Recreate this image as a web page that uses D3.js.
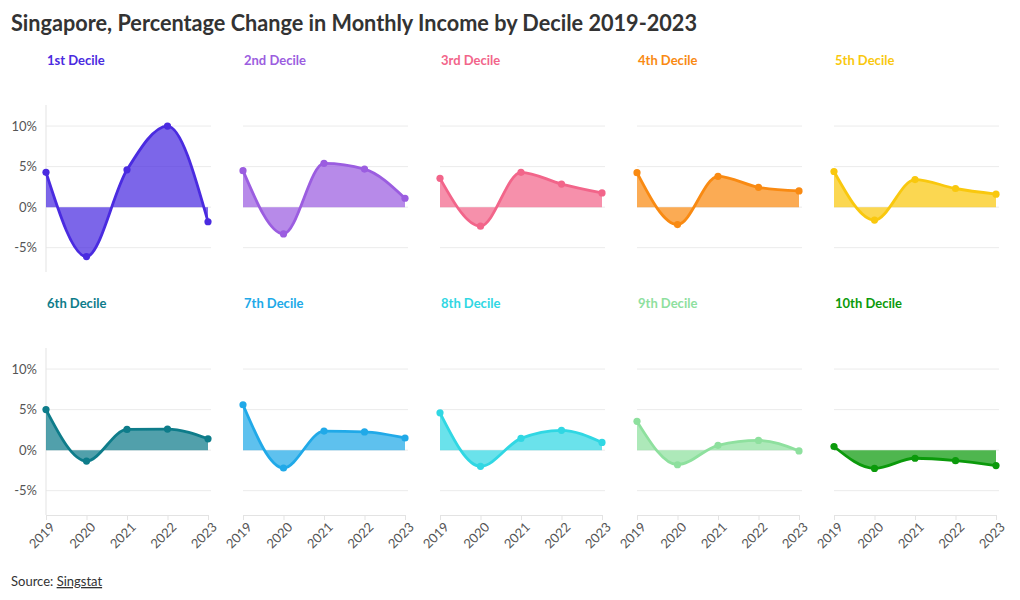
<!DOCTYPE html>
<html>
<head>
<meta charset="utf-8">
<script src="https://cdn.jsdelivr.net/npm/d3@7"></script>
<style>
  html, body { margin: 0; padding: 0; background: #fff; }
  svg { display: block; font-family: "Source Sans Pro", Lato, "Noto Sans", sans-serif; }
</style>
</head>
<body>
<svg id="chart" width="1020" height="600"></svg>
<script>
const years = [2019, 2020, 2021, 2022, 2023];
const deciles = ["1st Decile", "2nd Decile", "3rd Decile", "4th Decile", "5th Decile",
                 "6th Decile", "7th Decile", "8th Decile", "9th Decile", "10th Decile"];
const colors = ["#4a2be0", "#9b5de0", "#f2658a", "#f98a12", "#f9c80e",
                "#0e7c8a", "#20a9e8", "#30d7e3", "#8ee09e", "#0b9a0b"];
const d1 = [4.3, -6.1, 4.6, 10.0, -1.8];
const d2 = [4.5, -3.3, 5.4, 4.7, 1.1];
const d3v = [3.55, -2.35, 4.3, 2.85, 1.75];
const d4 = [4.25, -2.15, 3.8, 2.45, 2.0];
const d5 = [4.4, -1.6, 3.4, 2.3, 1.6];
const d6 = [5.0, -1.35, 2.55, 2.6, 1.4];
const d7 = [5.6, -2.2, 2.35, 2.25, 1.5];
const d8 = [4.6, -2.0, 1.45, 2.45, 0.95];
const d9 = [3.55, -1.8, 0.6, 1.2, -0.1];
const d10 = [0.45, -2.25, -1.0, -1.3, -1.9];
const series = [d1, d2, d3v, d4, d5, d6, d7, d8, d9, d10];
const yTicks = [-5, 0, 5, 10];
const yDomain = [-8, 12.6];

const svg = d3.select("#chart");

svg.append("text")
  .attr("x", 11).attr("y", 31)
  .attr("font-size", 22).attr("font-weight", 700)
  .attr("fill", "#333")
  .attr("textLength", 686).attr("lengthAdjust", "spacingAndGlyphs")
  .text("Singapore, Percentage Change in Monthly Income by Decile 2019-2023");

const pw = 162, ph = 167;
const x = d3.scalePoint().domain(years).range([0, pw]);
const y = d3.scaleLinear().domain(yDomain).range([ph, 0]);

const area = d3.area().curve(d3.curveMonotoneX)
  .x((d, i) => x(years[i])).y0(y(0)).y1(d => y(d));
const line = d3.line().curve(d3.curveMonotoneX)
  .x((d, i) => x(years[i])).y(d => y(d));

series.forEach((vals, k) => {
  const col = k % 5, row = Math.floor(k / 5);
  const left = 46 + col * 197;
  const top = 105 + row * 243;
  const g = svg.append("g").attr("transform", `translate(${left},${top})`);

  g.append("text")
    .attr("x", 1).attr("y", -40)
    .attr("font-size", 13).attr("font-weight", 700)
    .attr("fill", colors[k])
    .text(deciles[k]);

  g.selectAll(".grid").data(yTicks).join("line")
    .attr("x1", 0).attr("x2", pw + 3)
    .attr("y1", d => y(d)).attr("y2", d => y(d))
    .attr("stroke", "#ebebeb").attr("stroke-width", 1);

  if (col === 0) {
    g.append("line").attr("x1", 0).attr("x2", 0).attr("y1", 0).attr("y2", ph)
      .attr("stroke", "#e3e3e3");
    g.selectAll(".yl").data(yTicks).join("text")
      .attr("x", -9).attr("y", d => y(d)).attr("dy", "0.35em")
      .attr("text-anchor", "end").attr("font-size", 13).attr("fill", "#555")
      .text(d => d + "%");
  }

  if (row === 1) {
    const ax = g.append("g").attr("transform", `translate(0,${ph})`)
      .call(d3.axisBottom(x).tickSize(5).tickSizeOuter(0));
    ax.select(".domain").attr("stroke", "#e3e3e3");
    ax.selectAll(".tick line").attr("stroke", "#e3e3e3");
    ax.selectAll(".tick text")
      .attr("font-size", 13).attr("fill", "#555")
      .attr("font-family", "\"Source Sans Pro\", Lato, \"Noto Sans\", sans-serif")
      .attr("text-anchor", "end")
      .attr("dx", "-0.2em").attr("dy", "0.6em")
      .attr("transform", "rotate(-45)");
  }

  g.append("path").datum(vals)
    .attr("d", area).attr("fill", colors[k]).attr("fill-opacity", 0.72);
  g.append("path").datum(vals)
    .attr("d", line).attr("fill", "none").attr("stroke", colors[k]).attr("stroke-width", 2.8);
  g.selectAll(".pt").data(vals).join("circle")
    .attr("cx", (d, i) => x(years[i])).attr("cy", d => y(d))
    .attr("r", 3.6).attr("fill", colors[k]);
});

const src = svg.append("text").attr("x", 11).attr("y", 586)
  .attr("font-size", 13).attr("fill", "#333");
src.append("tspan").text("Source: ");
src.append("tspan").attr("text-decoration", "underline").text("Singstat");
</script>
</body>
</html>
